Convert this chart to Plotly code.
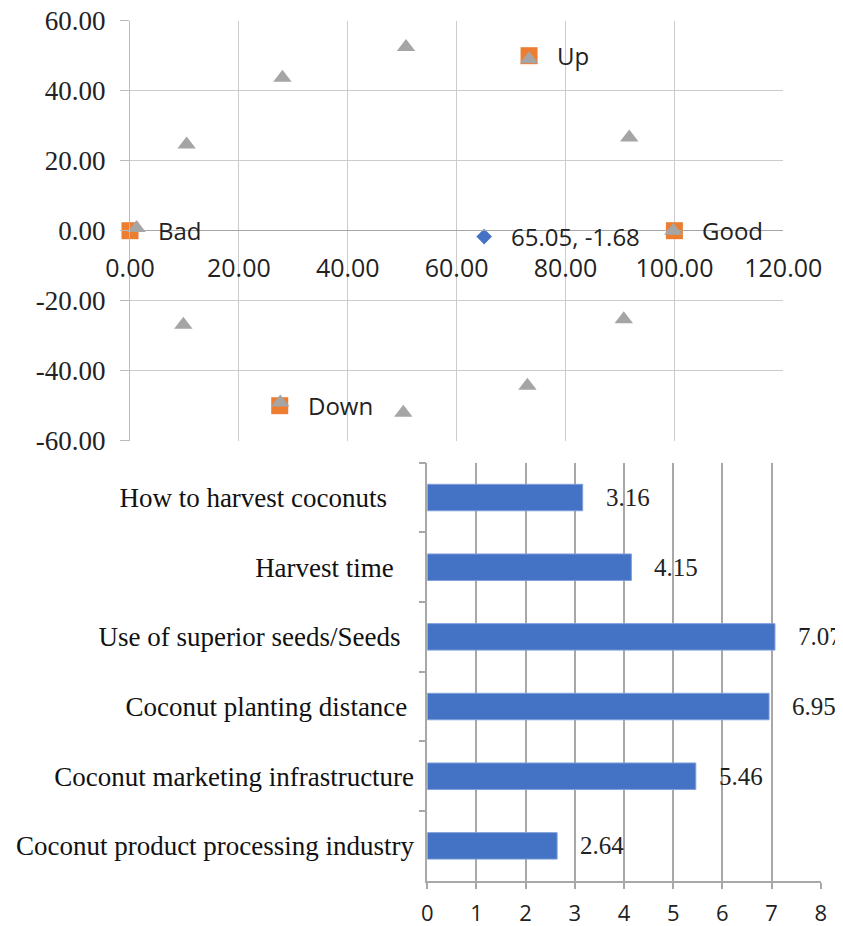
import plotly.graph_objects as go

# page is 843 x 926; plotly's page body has an 8px margin, so the figure starts at (8, 8)
PAGE_W, PAGE_H = 843, 926
OFF = 8
W, H = PAGE_W - OFF, PAGE_H - OFF

# ---------------- data: top scatter ----------------
tri_x = [1.2, 10.4, 28.0, 50.7, 73.3, 91.7, 99.8, 90.7, 73.0, 50.2, 27.6, 9.8]
tri_y = [0.8, 24.6, 43.7, 52.5, 49.0, 26.6, 0.0, -25.3, -44.3, -52.0, -49.1, -26.9]

ref_labels = ["Bad", "Good", "Up", "Down"]
ref_x = [0.0, 100.0, 73.3, 27.5]
ref_y = [0.0, 0.0, 50.0, -50.0]

status_x = [65.05]
status_y = [-1.68]

top_x_ticks = [0, 20, 40, 60, 80, 100, 120]
top_y_ticks = [-60, -40, -20, 0, 20, 40, 60]

# ---------------- data: bar chart ----------------
bar_cats = [
    "How to harvest coconuts",
    "Harvest time",
    "Use of superior seeds/Seeds",
    "Coconut planting distance",
    "Coconut marketing infrastructure",
    "Coconut product processing industry",
]
bar_pad = [4, 3, 2, 1, 0, 0]
bar_vals = [3.16, 4.15, 7.07, 6.95, 5.46, 2.64]
bar_x_ticks = [0, 1, 2, 3, 4, 5, 6, 7, 8]

GRAY = "#a5a5a5"
ORANGE = "#ed7d31"
BLUE = "#4472c4"
SANS = "Open Sans"
SERIF = "Liberation Serif"

def fx(px):
    return (px - OFF) / W

def fy(py):
    return 1 - (py - OFF) / H

fig = go.Figure()

# top scatter
fig.add_trace(go.Scatter(x=ref_x, y=ref_y, mode="markers", cliponaxis=False,
                         marker=dict(symbol="square", size=17, color=ORANGE),
                         xaxis="x", yaxis="y", showlegend=False, hoverinfo="skip"))
fig.add_trace(go.Scatter(x=tri_x, y=tri_y, mode="markers", cliponaxis=False,
                         marker=dict(symbol="triangle-up", size=16, color=GRAY),
                         xaxis="x", yaxis="y", showlegend=False, hoverinfo="skip"))
fig.add_trace(go.Scatter(x=status_x, y=status_y, mode="markers", cliponaxis=False,
                         marker=dict(symbol="diamond", size=12, color=BLUE),
                         xaxis="x", yaxis="y", showlegend=False, hoverinfo="skip"))

annotations = []
for lx, ly, lt in zip(ref_x, ref_y, ref_labels):
    annotations.append(dict(x=lx, y=ly, xref="x", yref="y", text=lt, showarrow=False,
                            xanchor="left", yanchor="middle", xshift=26,
                            font=dict(family=SANS, size=24, color="#222222")))
for sx, sy in zip(status_x, status_y):
    annotations.append(dict(x=sx, y=sy, xref="x", yref="y",
                            text=f"{sx:.2f}, {sy:.2f}", showarrow=False,
                            xanchor="left", yanchor="middle", xshift=25,
                            font=dict(family=SANS, size=24, color="#222222")))

# bar chart
bar_labels_padded = [c + "\u00a0" * p for c, p in zip(bar_cats, bar_pad)]
fig.add_trace(go.Bar(x=bar_vals, y=bar_labels_padded, orientation="h",
                     marker=dict(color=BLUE, line=dict(color="#7f9fdc", width=1)),
                     width=0.38, xaxis="x2", yaxis="y2", showlegend=False,
                     hoverinfo="skip"))
for v, c in zip(bar_vals, bar_labels_padded):
    annotations.append(dict(x=v, y=c, xref="x2", yref="y2", text=f"{v:.2f}",
                            showarrow=False, xanchor="left", yanchor="middle",
                            xshift=21, font=dict(family=SERIF, size=25, color="#222222")))

top_dom_y = [fy(440.7), fy(20.7)]
fig.update_layout(
    width=W, height=H,
    margin=dict(l=0, r=0, t=0, b=0),
    paper_bgcolor="white", plot_bgcolor="white",
    xaxis=dict(domain=[fx(130), fx(783.3)], range=[0, 120], tickvals=top_x_ticks,
               ticktext=[f"{t:.2f}" for t in top_x_ticks],
               anchor="free", position=fy(230), automargin=False,
               ticklabeloverflow="allow",
               showgrid=True, gridcolor="#cccccc", gridwidth=1.3,
               showline=True, linecolor="#a6a6a6", linewidth=1.3,
               zeroline=False, ticks="", ticklabelstandoff=16,
               tickfont=dict(family=SANS, size=25, color="#222222")),
    yaxis=dict(domain=top_dom_y, range=[-60, 60], tickvals=top_y_ticks,
               ticktext=[f"{t:.2f}" for t in top_y_ticks], automargin=False,
               ticklabeloverflow="allow",
               anchor="x", showgrid=True, gridcolor="#cccccc", gridwidth=1.3,
               showline=True, linecolor="#bbbbbb", linewidth=1.3, mirror=False,
               zeroline=False, ticks="outside", ticklen=9, tickcolor="#bbbbbb",
               tickwidth=1.3, ticklabelstandoff=9,
               tickfont=dict(family=SERIF, size=27, color="#222222")),
    xaxis2=dict(domain=[fx(427.3), fx(820.7)], range=[0, 8], tickvals=bar_x_ticks,
                anchor="y2", showgrid=True, gridcolor="#a8a8a8", gridwidth=1.6,
                showline=True, linecolor="#a8a8a8", linewidth=1.6, zeroline=False,
                ticks="outside", ticklen=6, tickcolor="#a8a8a8", tickwidth=1.6,
                ticklabelstandoff=6, automargin=False, ticklabeloverflow="allow",
                tickfont=dict(family=SANS, size=22, color="#222222")),
    yaxis2=dict(domain=[fy(880.7), fy(462.7)], range=[5.5, -0.5], type="category",
                anchor="x2", showgrid=False, showline=True, linecolor="#a8a8a8",
                linewidth=1.6, zeroline=False, ticks="outside", tickson="boundaries",
                ticklen=7, tickcolor="#a8a8a8", tickwidth=1.6, ticklabelstandoff=6,
                automargin=False, ticklabeloverflow="allow",
                tickfont=dict(family=SERIF, size=27, color="#111111")),
    annotations=annotations,
)

fig.write_html("out.html")
